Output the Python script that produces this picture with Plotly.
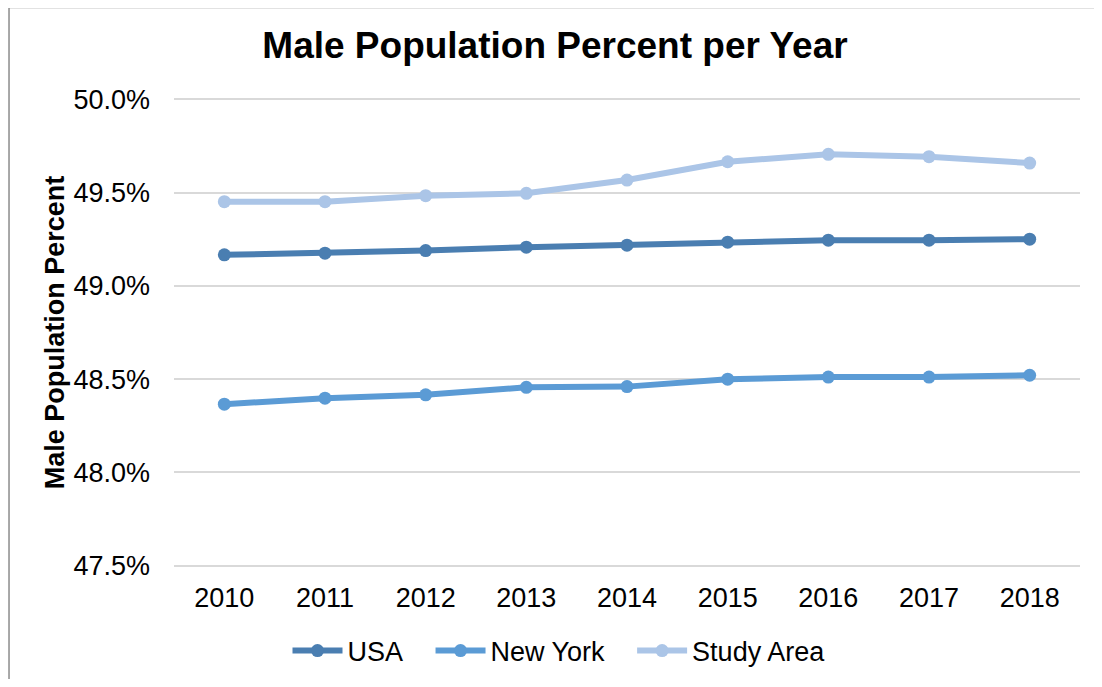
import plotly.graph_objects as go

years = ["2010", "2011", "2012", "2013", "2014", "2015", "2016", "2017", "2018"]

usa = [49.166, 49.175, 49.189, 49.207, 49.218, 49.234, 49.245, 49.245, 49.250]
new_york = [48.366, 48.398, 48.416, 48.456, 48.460, 48.500, 48.511, 48.511, 48.521]
study_area = [49.451, 49.451, 49.483, 49.496, 49.567, 49.665, 49.705, 49.692, 49.658]

y_ticks = [47.5, 48.0, 48.5, 49.0, 49.5, 50.0]

# trailing no-break spaces only widen the gap between legend entries
series = [
    ("USA\u00a0\u00a0\u00a0", usa, "#4a7eb1"),
    ("New York\u00a0\u00a0\u00a0", new_york, "#5b9bd5"),
    ("Study Area", study_area, "#abc5e7"),
]

font_family = "Liberation Sans, Arial, sans-serif"

# the page adds an 8px body margin, so the figure is a bit smaller than the window
W, H = 1086, 671

fig = go.Figure()

for name, values, color in series:
    fig.add_trace(
        go.Scatter(
            x=years,
            y=values,
            name=name,
            mode="lines+markers",
            line=dict(color=color, width=6),
            marker=dict(color=color, size=13),
        )
    )

fig.update_layout(
    width=W,
    height=H,
    paper_bgcolor="white",
    plot_bgcolor="white",
    margin=dict(l=166, r=14, t=89, b=111),
    font=dict(family=font_family, color="black", size=27),
    title=dict(
        text="<b>Male Population Percent per Year</b>",
        font=dict(size=37, family=font_family, color="black"),
        x=547 / W,
        xref="container",
        xanchor="center",
        y=1 - 37 / H,
        yref="container",
        yanchor="middle",
    ),
    showlegend=True,
    legend=dict(
        orientation="h",
        x=551 / W,
        xref="container",
        xanchor="center",
        y=1 - 643 / H,
        yref="container",
        yanchor="middle",
        font=dict(size=27),
        itemwidth=50,
    ),
    shapes=[
        dict(
            type="rect",
            xref="paper",
            yref="paper",
            x0=-0.1821,
            x1=1.05,
            y0=-0.3,
            y1=1.19,
            line=dict(color="#8c8c8c", width=1.5),
            layer="below",
        )
    ],
)

fig.update_xaxes(
    type="category",
    range=[-0.5, 8.5],
    showgrid=False,
    showline=False,
    zeroline=False,
    ticks="",
    ticklabelstandoff=11,
    tickfont=dict(size=27),
    automargin=False,
)

fig.update_yaxes(
    range=[47.488, 50.012],
    tickvals=y_ticks,
    ticktext=[f"{v:.1f}%" for v in y_ticks],
    showgrid=True,
    gridcolor="#d9d9d9",
    gridwidth=2,
    zeroline=False,
    showline=False,
    ticks="",
    ticklabelstandoff=23,
    tickfont=dict(size=27),
    automargin=False,
    title=dict(
        text="<b>Male Population Percent</b>",
        font=dict(size=27),
        standoff=0,
    ),
)

fig.write_html("out.html")
